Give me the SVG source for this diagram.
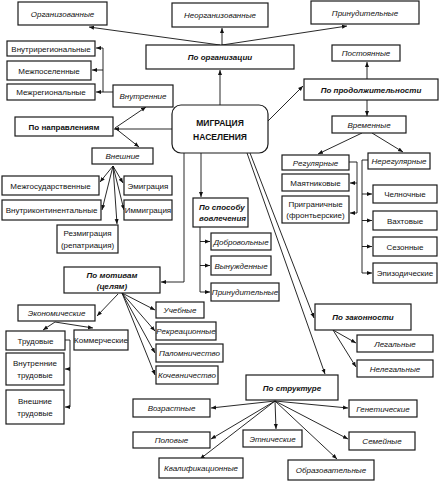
<svg xmlns="http://www.w3.org/2000/svg" width="440" height="484" viewBox="0 0 440 484">
<defs>
<marker id="a" viewBox="0 0 10 10" refX="10" refY="5" markerWidth="5" markerHeight="5" markerUnits="userSpaceOnUse" orient="auto"><path d="M0,1 L10,5 L0,9z" fill="#111"/></marker>
<style>
.b{fill:#fff;stroke:#1a1a1a;stroke-width:1.2}
.t{font-family:"Liberation Sans",Arial,sans-serif;font-size:8px;text-anchor:middle;fill:#111}
.i{font-style:italic}
.bd{font-weight:bold}
.c{fill:none;stroke:#111;stroke-width:0.9;marker-end:url(#a)}
.l{fill:none;stroke:#111;stroke-width:0.9}
</style>
</defs>
<rect width="440" height="484" fill="#fff"/>
<g id="connectors">
<path class="c" d="M220,105 V70"/>
<path class="c" d="M220,45 L89,27"/>
<path class="c" d="M222,45 V28"/>
<path class="c" d="M222,45 L347,26"/>
<path class="c" d="M113,92 H96"/>
<path class="l" d="M103,92 V48"/>
<path class="c" d="M103,48 H96"/>
<path class="c" d="M103,70 H92"/>
<path class="c" d="M172,129 H114"/>
<path class="c" d="M115,128 L146,107"/>
<path class="c" d="M115,128 L139,147"/>
<path class="c" d="M113,166 L100,182"/>
<path class="c" d="M113,166 L102,210"/>
<path class="c" d="M113,166 L117,224"/>
<path class="c" d="M113,166 L123,183"/>
<path class="c" d="M113,166 L124,210"/>
<path class="c" d="M268,121 L303,86"/>
<path class="c" d="M367,79 V62"/>
<path class="c" d="M367,100 V116"/>
<path class="c" d="M362,133 L318,154"/>
<path class="c" d="M372,133 L403,152"/>
<path class="l" d="M349,162 H357 V213"/>
<path class="c" d="M357,183 H350"/>
<path class="c" d="M357,213 H350"/>
<path class="l" d="M368,160 H362 V273"/>
<path class="c" d="M362,194 H372"/>
<path class="c" d="M362,220.5 H372"/>
<path class="c" d="M362,246.5 H372"/>
<path class="c" d="M362,273 H372"/>
<path class="c" d="M201,153 V197"/>
<path class="l" d="M200,227 V292"/>
<path class="c" d="M200,241.5 H210"/>
<path class="c" d="M200,265.5 H210"/>
<path class="c" d="M200,292 H210"/>
<path class="c" d="M184,153 V282 H161"/>
<path class="c" d="M118,294 L97,316"/>
<path class="c" d="M55,322 L43,330"/>
<path class="c" d="M55,322 L93,328"/>
<path class="l" d="M65,340 H70 V407"/>
<path class="c" d="M70,369 H65"/>
<path class="c" d="M70,407 H65"/>
<path class="c" d="M122,293 L155,310"/>
<path class="c" d="M122,293 L155,331"/>
<path class="c" d="M122,293 L155,353"/>
<path class="c" d="M122,293 L155,375"/>
<path class="c" d="M250,153 L314,318"/>
<path class="c" d="M247,153 L325,374"/>
<path class="c" d="M333,330 L356,343"/>
<path class="c" d="M333,330 L356,367"/>
<path class="c" d="M275,401 L211,408"/>
<path class="c" d="M275,401 L211,439"/>
<path class="c" d="M275,401 L200,459"/>
<path class="c" d="M275,401 L276,429"/>
<path class="c" d="M275,401 L337,459"/>
<path class="c" d="M275,401 L348,439"/>
<path class="c" d="M275,401 L348,408"/>
</g>
<g id="n-org"><rect class="b" x="18" y="2" width="89" height="23"/><text class="t i" x="62.5" y="16.5">Организованные</text></g>
<g id="n-neorg"><rect class="b" x="172" y="3" width="96" height="24"/><text class="t i" x="220" y="18">Неорганизованные</text></g>
<g id="n-prin1"><rect class="b" x="311" y="1" width="108" height="23"/><text class="t i" x="365" y="15.5">Принудительные</text></g>
<g id="n-po-org"><rect class="b" x="146" y="45" width="148" height="24"/><text class="t i bd" x="220" y="60">По организации</text></g>
<g id="n-vnutrireg"><rect class="b" x="7" y="41" width="88" height="15"/><text class="t" x="51" y="51.5">Внутрирегиональные</text></g>
<g id="n-mezhpos"><rect class="b" x="7" y="61" width="84" height="19"/><text class="t" x="49" y="73.5">Межпоселенные</text></g>
<g id="n-mezhreg"><rect class="b" x="7" y="84" width="88" height="16"/><text class="t" x="51" y="95">Межрегиональные</text></g>
<g id="n-vnutr"><rect class="b" x="113" y="85" width="60" height="22"/><text class="t i" x="143" y="99">Внутренние</text></g>
<g id="n-napr"><rect class="b" x="15" y="117" width="98" height="19"/><text class="t bd" x="64" y="129.5">По направлениям</text></g>
<g id="n-vnesh"><rect class="b" x="92" y="148" width="61" height="16"/><text class="t i" x="122.5" y="159">Внешние</text></g>
<g id="n-mezhgos"><rect class="b" x="2" y="176" width="97" height="19"/><text class="t" x="50.5" y="188.5">Межгосударственные</text></g>
<g id="n-vnutrikont"><rect class="b" x="2" y="200" width="99" height="20"/><text class="t" x="51.5" y="213">Внутриконтинентальные</text></g>
<g id="n-emig"><rect class="b" x="124" y="176" width="48" height="19"/><text class="t" x="148" y="188.5">Эмиграция</text></g>
<g id="n-immig"><rect class="b" x="124" y="200" width="48" height="20"/><text class="t" x="148" y="213">Иммиграция</text></g>
<g id="n-rezmig"><rect class="b" x="57" y="225" width="61" height="28"/><text class="t" x="87.5" y="236">Резмиграция</text><text class="t" x="87.5" y="248">(репатриация)</text></g>
<g id="n-main"><rect class="b" x="172" y="105" width="96" height="48" rx="9"/><text class="t bd" x="220" y="126" style="font-size:8.5px">МИГРАЦИЯ</text><text class="t bd" x="220" y="140" style="font-size:8.5px">НАСЕЛЕНИЯ</text></g>
<g id="n-prod"><rect class="b" x="304" y="79" width="134" height="21"/><text class="t i bd" x="371" y="92.5">По продолжительности</text></g>
<g id="n-post"><rect class="b" x="332" y="45" width="68" height="16"/><text class="t i" x="366" y="56">Постоянные</text></g>
<g id="n-vrem"><rect class="b" x="332" y="116" width="74" height="17"/><text class="t i" x="369" y="127.5">Временные</text></g>
<g id="n-reg"><rect class="b" x="282" y="155" width="67" height="15"/><text class="t i" x="315.5" y="165.5">Регулярные</text></g>
<g id="n-nereg"><rect class="b" x="368" y="153" width="62" height="16"/><text class="t i" x="399" y="164">Нерегулярные</text></g>
<g id="n-mayat"><rect class="b" x="282" y="174" width="67" height="17"/><text class="t" x="315.5" y="185.5">Маятниковые</text></g>
<g id="n-prigr"><rect class="b" x="282" y="196" width="67" height="27"/><text class="t" x="315.5" y="207">Приграничные</text><text class="t" x="315.5" y="218">(фронтьерские)</text></g>
<g id="n-chel"><rect class="b" x="373" y="185" width="64" height="18"/><text class="t" x="405" y="197">Челночные</text></g>
<g id="n-vakht"><rect class="b" x="373" y="211" width="64" height="19"/><text class="t" x="405" y="223.5">Вахтовые</text></g>
<g id="n-sez"><rect class="b" x="373" y="237" width="64" height="19"/><text class="t" x="405" y="249.5">Сезонные</text></g>
<g id="n-epiz"><rect class="b" x="373" y="263" width="64" height="20"/><text class="t" x="405" y="276">Эпизодические</text></g>
<g id="n-sposob"><rect class="b" x="193" y="198" width="55" height="29"/><text class="t i bd" x="199" y="210" style="text-anchor:start">По способу</text><text class="t i bd" x="199" y="221" style="text-anchor:start">вовлечения</text></g>
<g id="n-dobr"><rect class="b" x="211" y="233" width="60" height="17"/><text class="t i" x="241" y="244.5">Добровольные</text></g>
<g id="n-vynuzh"><rect class="b" x="211" y="256" width="60" height="19"/><text class="t i" x="241" y="268.5">Вынужденные</text></g>
<g id="n-prin2"><rect class="b" x="211" y="283" width="68" height="18"/><text class="t i" x="245" y="295">Принудительные</text></g>
<g id="n-motiv"><rect class="b" x="64" y="267" width="96" height="26"/><text class="t i bd" x="112" y="278">По мотивам</text><text class="t i bd" x="112" y="289">(целям)</text></g>
<g id="n-ekon"><rect class="b" x="18" y="305" width="77" height="16"/><text class="t i" x="56.5" y="316">Экономические</text></g>
<g id="n-trud"><rect class="b" x="6" y="331" width="59" height="19"/><text class="t" x="35.5" y="343.5">Трудовые</text></g>
<g id="n-komm"><rect class="b" x="74" y="330" width="54" height="20"/><text class="t" x="101" y="343">Коммерческие</text></g>
<g id="n-vnutrtrud"><rect class="b" x="6" y="353" width="58" height="32"/><text class="t" x="35" y="366">Внутренние</text><text class="t" x="35" y="378">трудовые</text></g>
<g id="n-vneshtrud"><rect class="b" x="6" y="390" width="58" height="34"/><text class="t" x="35" y="404">Внешние</text><text class="t" x="35" y="416">трудовые</text></g>
<g id="n-ucheb"><rect class="b" x="156" y="302" width="48" height="16"/><text class="t i" x="180" y="313">Учебные</text></g>
<g id="n-rekr"><rect class="b" x="156" y="322" width="60" height="18"/><text class="t i" x="186" y="334">Рекреационные</text></g>
<g id="n-palom"><rect class="b" x="156" y="344" width="67" height="18"/><text class="t i" x="189.5" y="356">Паломничество</text></g>
<g id="n-kochev"><rect class="b" x="156" y="366" width="62" height="18"/><text class="t i" x="187" y="378">Кочевничество</text></g>
<g id="n-zakon"><rect class="b" x="315" y="304" width="96" height="26"/><text class="t i bd" x="363" y="320">По законности</text></g>
<g id="n-leg"><rect class="b" x="357" y="335" width="76" height="17"/><text class="t i" x="395" y="346.5">Легальные</text></g>
<g id="n-neleg"><rect class="b" x="357" y="360" width="76" height="17"/><text class="t i" x="395" y="371.5">Нелегальные</text></g>
<g id="n-struct"><rect class="b" x="246" y="375" width="92" height="25"/><text class="t i bd" x="292" y="390.5">По структуре</text></g>
<g id="n-vozr"><rect class="b" x="133" y="399" width="77" height="18"/><text class="t i" x="171.5" y="411">Возрастные</text></g>
<g id="n-polov"><rect class="b" x="133" y="432" width="77" height="16"/><text class="t i" x="171.5" y="443">Половые</text></g>
<g id="n-kval"><rect class="b" x="159" y="458" width="84" height="20"/><text class="t i" x="201" y="471">Квалификационные</text></g>
<g id="n-etn"><rect class="b" x="243" y="430" width="59" height="17"/><text class="t i" x="272.5" y="441.5">Этнические</text></g>
<g id="n-obraz"><rect class="b" x="288" y="460" width="86" height="20"/><text class="t i" x="331" y="473">Образовательные</text></g>
<g id="n-sem"><rect class="b" x="349" y="432" width="66" height="18"/><text class="t i" x="382" y="444">Семейные</text></g>
<g id="n-genet"><rect class="b" x="349" y="400" width="68" height="17"/><text class="t i" x="383" y="411.5">Генетические</text></g>
</svg>
